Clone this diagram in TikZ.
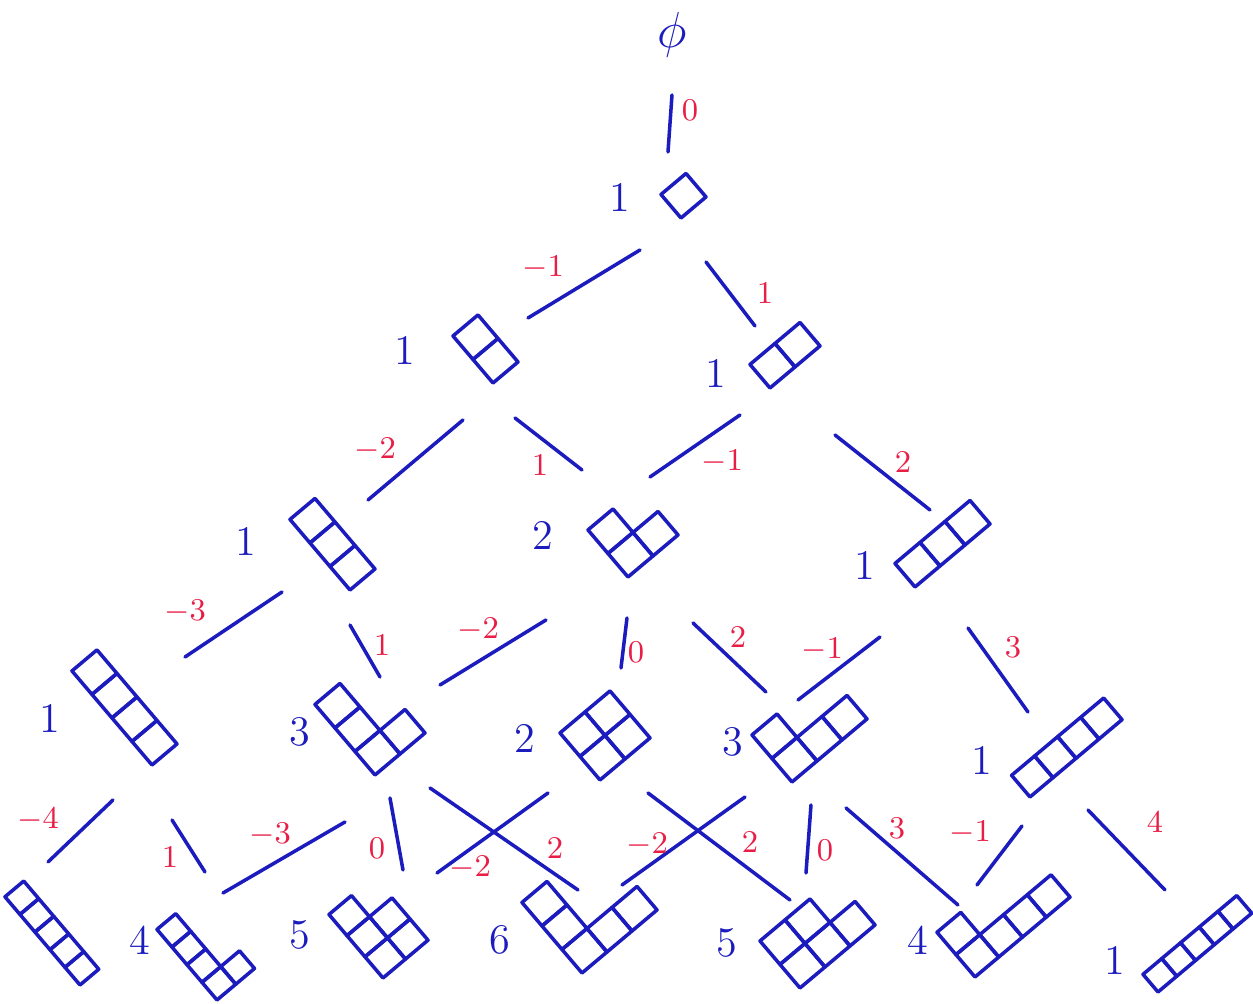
\documentclass[tikz,border=0pt]{standalone}
\usetikzlibrary{calc}
\definecolor{ink}{RGB}{28,28,190}
\definecolor{pen}{RGB}{232,30,70}
\tikzset{
  box/.style={ink, line width=1pt, line join=round},
  edge/.style={ink, line width=1pt, line cap=round},
  num/.style={ink, font=\large},
  lab/.style={pen, font=\small}
}
% #1 scale, #2 bottom corner, #3 row lengths
\newcommand{\young}[3][1]{%
  \begin{scope}[shift={(#2)}, x={(0.25cm,0.21cm)}, y={(-0.2cm,0.235cm)}, scale=#1]
    \foreach \len [count=\r from 0] in {#3}
      \foreach \c in {1,...,\len}
        \draw[box] (\c-1,\r) -- ++(1,0) -- ++(0,1) -- ++(-1,0) -- cycle;
  \end{scope}}

\begin{document}
\begin{tikzpicture}[x=0.01cm, y=-0.01cm]
  \useasboundingbox (0,0) rectangle (1253,1004);
  \node[ink, font=\Large] (p0) at (672,35) {$\phi$};
  \coordinate (p1) at (681,218);
  \coordinate (p11) at (493,383);
  \coordinate (p2) at (770,388);
  \coordinate (p111) at (350,590);
  \coordinate (p21) at (628,577);
  \coordinate (p3) at (915,587);
  \coordinate (p1111) at (152,765);
  \coordinate (p211) at (375,775);
  \coordinate (p22) at (600,780);
  \coordinate (p31) at (792,782);
  \coordinate (p4) at (1030,797);
  \coordinate (p11111) at (80,985);
  \coordinate (p2111) at (217,1000);
  \coordinate (p221) at (383,978);
  \coordinate (p311) at (582,973);
  \coordinate (p32) at (800,988);
  \coordinate (p41) at (975,977);
  \coordinate (p5) at (1158,992);
  % diagrams
  \young{p1}{1}
  \young{p11}{1,1}
  \young{p2}{2}
  \young{p111}{1,1,1}
  \young{p21}{2,1}
  \young{p3}{3}
  \young{p1111}{1,1,1,1}
  \young{p211}{2,1,1}
  \young{p22}{2,2}
  \young{p31}{3,1}
  \young[0.92]{p4}{4}
  \young[0.75]{p11111}{1,1,1,1,1}
  \young[0.75]{p2111}{2,1,1,1}
  \young[0.9]{p221}{2,2,1}
  \young{p311}{3,1,1}
  \young{p32}{3,2}
  \young[0.95]{p41}{4,1}
  \young[0.75]{p5}{5}
  % edges
  \foreach \a/\ax/\ay/\b/\bx/\by in {
      p0/0/60/p1/-13/-66, p1/-41/32/p11/35/-65, p1/25/44/p2/-15/-62,
      p11/-30/37/p111/18/-90, p11/22/35/p21/-46/-107,
      p2/-30/27/p21/22/-100, p2/65/47/p3/15/-77,
      p111/-68/2/p1111/33/-108, p111/0/35/p211/5/-98,
      p21/-82/43/p211/65/-90, p21/-1/41/p22/21/-112, p21/65/46/p31/-26/-90,
      p3/-35/50/p31/6/-82, p3/53/41/p4/-2/-85,
      p1111/-39/35/p11111/-32/-123, p1111/20/55/p2111/-12/-128,
      p211/-30/47/p2111/6/-107, p211/15/23/p221/20/-108, p211/55/13/p311/-4/-83,
      p22/-52/13/p221/54/-105, p22/48/13/p32/-10/-88,
      p31/-47/15/p311/40/-88, p31/19/23/p32/6/-115, p31/54/26/p41/-17/-72,
      p4/-8/29/p41/2/-92, p4/58/13/p5/7/-102}
    \draw[edge] ($(\a)+(\ax,\ay)$) -- ($(\b)+(\bx,\by)$);
  % contents of the added box
  \foreach \x/\y/\t [count=\i] in {
      690/110/0, 543/268/-1, 765/293/1, 375/450/-2, 540/465/1, 722/462/-1,
      903/462/2, 185/612/-3, 382/645/1, 478/630/-2, 636/652/0, 738/637/2,
      822/650/-1, 1013/647/3, 38/820/-4, 170/857/1, 270/835/-3, 377/848/0,
      555/848/2, 470/868/-2, 647/845/-2, 750/842/2, 825/850/0, 897/828/3,
      970/833/-1, 1155/822/4}
    \node[lab] (c\i) at (\x,\y) {$\t$};
  % number of tableaux
  \foreach \x/\y/\t/\n in {
      620/197/1/1, 405/350/1/11, 716/373/1/2, 246/541/1/111, 543/535/2/21,
      865/565/1/3, 50/718/1/1111, 300/732/3/211, 525/738/2/22, 733/742/3/31,
      982/760/1/4, 140/940/4/2111, 300/935/5/221, 500/940/6/311, 727/943/5/32,
      918/940/4/41, 1115/960/1/5}
    \node[num] (n\n) at (\x,\y) {\t};
\end{tikzpicture}
\end{document}
